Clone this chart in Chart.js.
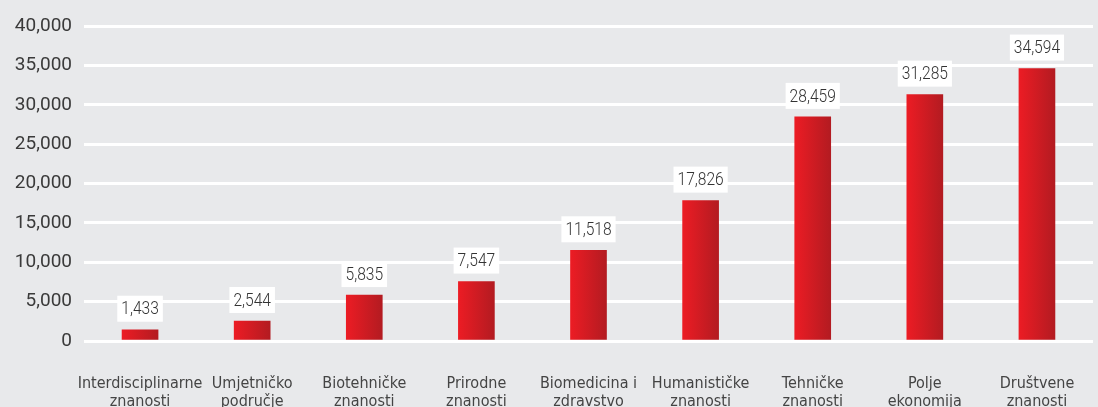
<!DOCTYPE html>
<html>
<head>
<meta charset="utf-8">
<script src="https://cdn.jsdelivr.net/npm/chart.js@4/dist/chart.umd.min.js"></script>
<style>
html,body{margin:0;padding:0;background:#e8e9eb;}
#wrap{width:1098px;height:407px;position:relative;}
</style>
</head>
<body>
<div id="wrap"><canvas id="c" width="1098" height="407"></canvas></div>
<script>
const categories = [
  ["Interdisciplinarne","znanosti"],
  ["Umjetničko","područje"],
  ["Biotehničke","znanosti"],
  ["Prirodne","znanosti"],
  ["Biomedicina i","zdravstvo"],
  ["Humanističke","znanosti"],
  ["Tehničke","znanosti"],
  ["Polje","ekonomija"],
  ["Društvene","znanosti"]
];
const values = [1433, 2544, 5835, 7547, 11518, 17826, 28459, 31285, 34594];
const yMax = 40000;
const yStep = 5000;

const NARROW = '"Liberation Sans Narrow", "DejaVu Sans Condensed", "Roboto", sans-serif';
const fmt = v => v.toLocaleString('en-US');
const BAR_W = 36;

const barGradient = (ctx) => {
  const chart = ctx.chart;
  if (!chart.chartArea || !chart.scales.x) return '#d81f26';
  const cx = chart.scales.x.getPixelForValue(ctx.dataIndex);
  const g = chart.ctx.createLinearGradient(cx - BAR_W/2, 0, cx + BAR_W/2, 0);
  g.addColorStop(0, '#ec1c24');
  g.addColorStop(1, '#b31b21');
  return g;
};

const labelPlugin = {
  id: 'valueLabels',
  afterDatasetsDraw(chart) {
    const c = chart.ctx;
    const meta = chart.getDatasetMeta(0);
    const sx = 0.82;
    c.save();
    c.font = '300 19px Roboto, sans-serif';
    c.textAlign = 'center';
    c.textBaseline = 'middle';
    meta.data.forEach((bar, i) => {
      const txt = fmt(values[i]);
      const w = c.measureText(txt).width * sx + 8;
      const h = 26;
      const bottom = bar.y - 8;
      c.fillStyle = '#ffffff';
      c.fillRect(bar.x - w/2, bottom - h, w, h);
      c.save();
      c.translate(bar.x, bottom - h/2 + 1);
      c.scale(sx, 1);
      c.fillStyle = '#333333';
      c.fillText(txt, 0, 0);
      c.restore();
    });
    c.restore();
  }
};

new Chart(document.getElementById('c'), {
  type: 'bar',
  data: {
    labels: categories,
    datasets: [{
      data: values,
      backgroundColor: barGradient,
      barThickness: BAR_W,
      borderWidth: 0
    }]
  },
  options: {
    responsive: false,
    animation: false,
    layout: { padding: { top: 26, right: 5, left: 0, bottom: 0 } },
    plugins: { legend: { display: false }, tooltip: { enabled: false } },
    scales: {
      x: {
        grid: { display: true, drawOnChartArea: false, drawTicks: true, tickLength: 34, color: 'rgba(0,0,0,0)' },
        border: { display: false },
        ticks: {
          color: '#444444',
          font: { family: NARROW, size: 16, lineHeight: 1.12 },
          padding: 0,
          maxRotation: 0,
          autoSkip: false
        },
        afterFit(scale) { scale.height = 66; }
      },
      y: {
        min: 0,
        max: yMax,
        grid: { color: '#ffffff', lineWidth: 3, drawTicks: false },
        border: { display: false },
        ticks: {
          stepSize: yStep,
          color: '#3a3a3a',
          font: { family: 'Roboto, sans-serif', size: 19 },
          padding: 12,
          callback: v => fmt(v)
        },
        afterFit(scale) { scale.width = 84; }
      }
    }
  },
  plugins: [labelPlugin]
});
</script>
</body>
</html>
